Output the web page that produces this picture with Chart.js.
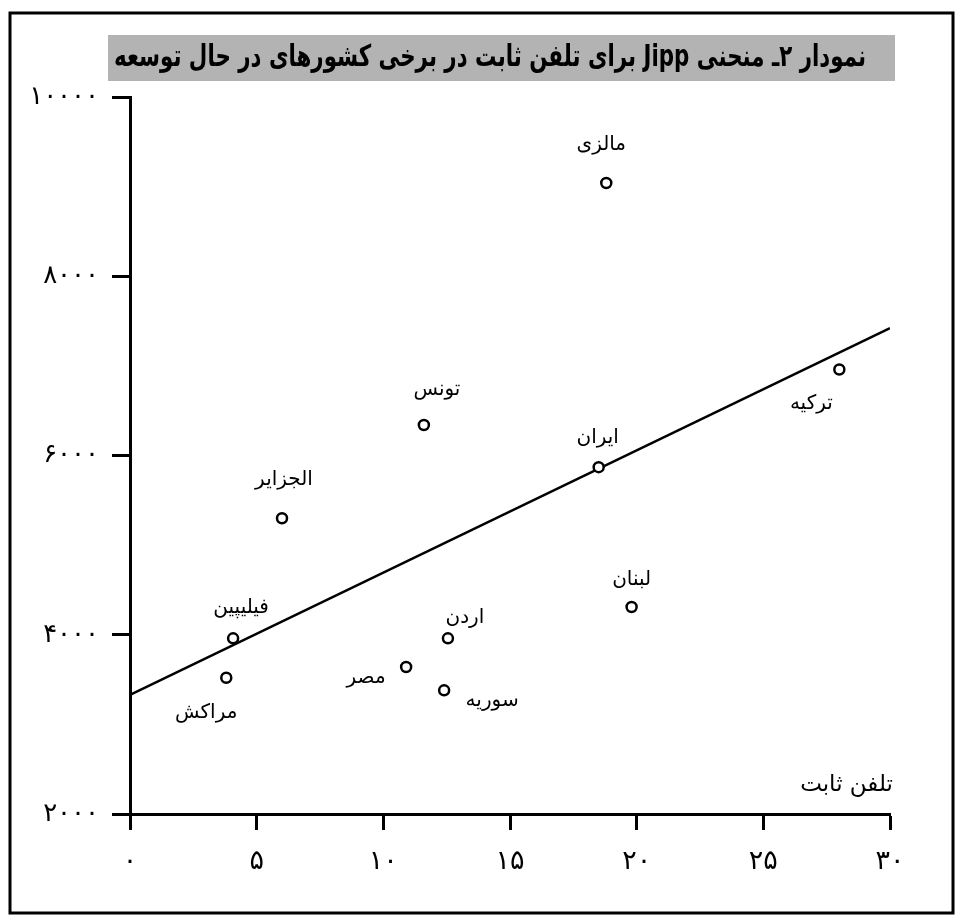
<!DOCTYPE html>
<html>
<head>
<meta charset="utf-8">
<script src="https://cdn.jsdelivr.net/npm/chart.js@4.4.1/dist/chart.umd.min.js"></script>
<style>
  body { margin: 0; background: #fff; }
  canvas { display: block; }
</style>
</head>
<body>
<canvas id="jippChart" width="962" height="922"></canvas>
<script>
// Jipp curve for fixed telephone in some developing countries

const chartTitle = "نمودار ۲ـ منحنی Jipp برای تلفن ثابت در برخی کشورهای در حال توسعه";
const xAxisTitle = "تلفن ثابت";

const countries = ["مالزی", "ترکیه", "تونس", "ایران", "الجزایر", "لبنان", "فیلیپین", "اردن", "مصر", "مراکش", "سوریه"];
const phones = [18.8, 28.0, 11.6, 18.5, 6.0, 19.8, 4.07, 12.55, 10.9, 3.8, 12.4];
const gdp = [9040, 6960, 6340, 5870, 5300, 4310, 3960, 3960, 3640, 3520, 3380];

// fitted trend line (start and end)
const trendX = [0, 30];
const trendY = [3330, 7420];

const xTicks = [0, 5, 10, 15, 20, 25, 30];
const yTicks = [2000, 4000, 6000, 8000, 10000];

// where each country name sits relative to its point
const labelOffsets = [
  [-5, -38], [-28, 34], [13, -35], [-1, -29], [2, -38], [0, -27],
  [8, -31], [17, -21], [-40, 11], [-20, 35], [48, 10],
];

const faDigits = "۰۱۲۳۴۵۶۷۸۹";
function toFa(v) {
  return String(v).replace(/\d/g, (d) => faDigits[d]);
}

const arabicFont = "'DejaVu Sans', sans-serif";

const decorPlugin = {
  id: "decor",
  beforeDraw(chart) {
    const ctx = chart.ctx;
    ctx.save();
    ctx.fillStyle = "#fff";
    ctx.fillRect(0, 0, chart.width, chart.height);
    // outer frame
    ctx.strokeStyle = "#000";
    ctx.lineWidth = 3;
    ctx.strokeRect(10, 13, 943, 900);
    // title band
    ctx.fillStyle = "#b3b3b3";
    ctx.fillRect(108, 35, 787, 46);
    ctx.font = "bold 30px " + arabicFont;
    ctx.direction = "rtl";
    const w = ctx.measureText(chartTitle).width;
    ctx.translate(490, 58);
    ctx.scale(752 / w, 1);
    ctx.fillStyle = "#000";
    ctx.textAlign = "center";
    ctx.textBaseline = "middle";
    ctx.fillText(chartTitle, 0, 0);
    ctx.restore();
  },
  afterDatasetsDraw(chart) {
    const ctx = chart.ctx;
    const xs = chart.scales.x;
    const ys = chart.scales.y;
    ctx.save();
    ctx.direction = "rtl";
    ctx.fillStyle = "#000";
    ctx.font = "20px " + arabicFont;
    ctx.textAlign = "center";
    ctx.textBaseline = "middle";
    countries.forEach((name, i) => {
      const px = xs.getPixelForValue(phones[i]);
      const py = ys.getPixelForValue(gdp[i]);
      ctx.fillText(name, px + labelOffsets[i][0], py + labelOffsets[i][1]);
    });
    // x axis title, right end just past the axis
    ctx.font = "23px " + arabicFont;
    ctx.textAlign = "right";
    ctx.fillText(xAxisTitle, chart.chartArea.right + 3, chart.chartArea.bottom - 29);
    ctx.restore();
  },
};

const ctx = document.getElementById("jippChart").getContext("2d");

new Chart(ctx, {
  type: "scatter",
  data: {
    datasets: [
      {
        label: "countries",
        data: countries.map((c, i) => ({ x: phones[i], y: gdp[i] })),
        pointRadius: 5,
        pointBorderWidth: 2.5,
        pointBackgroundColor: "#fff",
        pointBorderColor: "#000",
        order: 0,
      },
      {
        type: "line",
        label: "trend",
        data: trendX.map((x, i) => ({ x: x, y: trendY[i] })),
        borderColor: "#000",
        borderWidth: 2.5,
        pointRadius: 0,
        fill: false,
        order: 1,
      },
    ],
  },
  options: {
    responsive: false,
    devicePixelRatio: 1,
    animation: false,
    layout: {
      padding: { left: 10, top: 97, right: 72, bottom: 0 },
    },
    plugins: {
      legend: { display: false },
      tooltip: { enabled: false },
    },
    scales: {
      x: {
        type: "linear",
        min: 0,
        max: 30,
        afterBuildTicks: (scale) => {
          scale.ticks = xTicks.map((v) => ({ value: v }));
        },
        afterFit: (scale) => {
          scale.height = 108;
        },
        ticks: {
          color: "#000",
          font: { family: arabicFont, size: 27 },
          padding: 16,
          callback: (v) => toFa(v),
        },
        grid: {
          drawOnChartArea: false,
          drawTicks: true,
          tickLength: 16,
          tickColor: "#000",
          tickWidth: 3,
        },
        border: { display: true, color: "#000", width: 3 },
      },
      y: {
        type: "linear",
        min: 2000,
        max: 10000,
        afterBuildTicks: (scale) => {
          scale.ticks = yTicks.map((v) => ({ value: v }));
        },
        afterFit: (scale) => {
          scale.width = 120;
        },
        ticks: {
          color: "#000",
          font: { family: arabicFont, size: 26 },
          padding: 13,
          callback: (v) => toFa(v),
        },
        grid: {
          drawOnChartArea: false,
          drawTicks: true,
          tickLength: 18,
          tickColor: "#000",
          tickWidth: 3,
        },
        border: { display: true, color: "#000", width: 3 },
      },
    },
  },
  plugins: [decorPlugin],
});
</script>
</body>
</html>
